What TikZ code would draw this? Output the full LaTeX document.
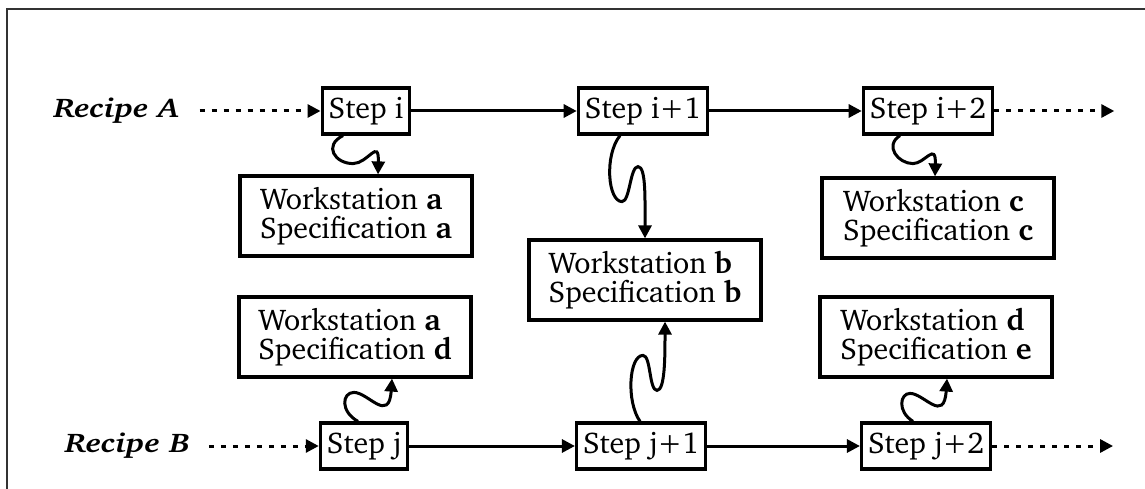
\documentclass[tikz,border=0pt]{standalone}
\usepackage[T1]{fontenc}
\usepackage{charter}
\usepackage{graphicx}
\usetikzlibrary{arrows.meta,positioning}
\definecolor{framegray}{HTML}{333333}
\newcommand{\recipetext}[1]{\scalebox{1.22}[1]{#1}}

\begin{document}
\begin{tikzpicture}[
  x=1pt,y=1pt,
  every node/.style={font=\fontsize{30}{29}\selectfont},
  stepbox/.style={draw,line width=3.2pt,minimum height=46pt,inner xsep=6.5pt,font=\fontsize{30}{30}\selectfont},
  wsbox/.style={draw,line width=3.2pt,align=left,minimum width=232pt,minimum height=80pt},
  recipe/.style={font=\fontsize{27}{27}\selectfont\bfseries\itshape},
  flow/.style={-{Triangle[length=13pt,width=13pt]},line width=3pt},
  dots/.style={flow,dash pattern=on 5pt off 7pt},
  wiggle/.style={-{Triangle[length=13pt,width=13pt]},line width=3pt}
]
\fill[white] (0,0) rectangle (1145,-489);
\useasboundingbox (0,0) rectangle (1145,-489);
\draw[framegray,line width=2.5pt] (7,-489) -- (7,-9) -- (1145,-9);

% recipe A
\node[stepbox] (stepi) at (366,-111) {Step i};
\node[stepbox] (stepi1) at (643,-111) {Step i+1};
\node[stepbox] (stepi2) at (928,-111) {Step i+2};
\node[recipe,left=138pt of stepi] (recA) {\recipetext{Recipe A}};
\coordinate[right=120pt of stepi2] (endA);
\node[wsbox] (wsaa) at (356,-216) {Workstation \textbf{a}\\Specification \textbf{a}};
\node[wsbox] (wsb) at (645,-280) {Workstation \textbf{b}\\Specification \textbf{b}};
\node[wsbox] (wsc) at (938,-218) {Workstation \textbf{c}\\Specification \textbf{c}};

% recipe B
\node[stepbox] (stepj) at (364,-446) {Step j};
\node[stepbox] (stepj1) at (641,-446) {Step j+1};
\node[stepbox] (stepj2) at (926,-446) {Step j+2};
\node[recipe,left=125pt of stepj] (recB) {\recipetext{Recipe B}};
\coordinate[right=121pt of stepj2] (endB);
\node[wsbox] (wsad) at (355,-337) {Workstation \textbf{a}\\Specification \textbf{d}};
\node[wsbox] (wsde) at (936,-337) {Workstation \textbf{d}\\Specification \textbf{e}};

\draw[dots,shorten <=17pt] (recA) -- (stepi);
\draw[flow] (stepi) -- (stepi1);
\draw[flow] (stepi1) -- (stepi2);
\draw[dots] (stepi2) -- (endA);
\draw[dots,shorten <=15pt] (recB) -- (stepj);
\draw[flow] (stepj) -- (stepj1);
\draw[flow] (stepj1) -- (stepj2);
\draw[dots] (stepj2) -- (endB);

% wiggles
\draw[wiggle] ([xshift=-23pt]stepi.south) .. controls +(-20,-10) and +(-18,0) .. ++(10,-28)
  .. controls +(15,0) and +(1,37) .. ([xshift=22pt]wsaa.north);
\draw[wiggle] ([xshift=-23pt]stepi1.south) .. controls +(-16,-20) and +(-14,0) .. ++(2,-66)
  .. controls +(8,0) and +(-8,0) .. ++(16,35)
  .. controls +(8,0) and +(0,40) .. (wsb.north);
\draw[wiggle] ([xshift=-28pt]stepi2.south) .. controls +(-16,-10) and +(-15,0) .. ++(13,-28)
  .. controls +(12,0) and +(1,35) .. ([xshift=-3pt]wsc.north);
\draw[wiggle] ([xshift=-6pt]stepj.north) .. controls +(-18,10) and +(-12,0) .. ++(-4,29)
  .. controls +(14,0) and +(-3,-45) .. ([xshift=37pt]wsad.south);
\draw[wiggle] ([xshift=-1pt]stepj1.north) .. controls +(-14,20) and +(-14,0) .. ++(3,66)
  .. controls +(8,0) and +(-8,0) .. ++(14,-35)
  .. controls +(8,0) and +(0,-35) .. ([xshift=20pt]wsb.south);
\draw[wiggle] ([xshift=-13pt]stepj2.north) .. controls +(-16,10) and +(-10,0) .. ++(-3,28)
  .. controls +(14,0) and +(-3,-45) .. ([xshift=11pt]wsde.south);
\end{tikzpicture}
\end{document}
